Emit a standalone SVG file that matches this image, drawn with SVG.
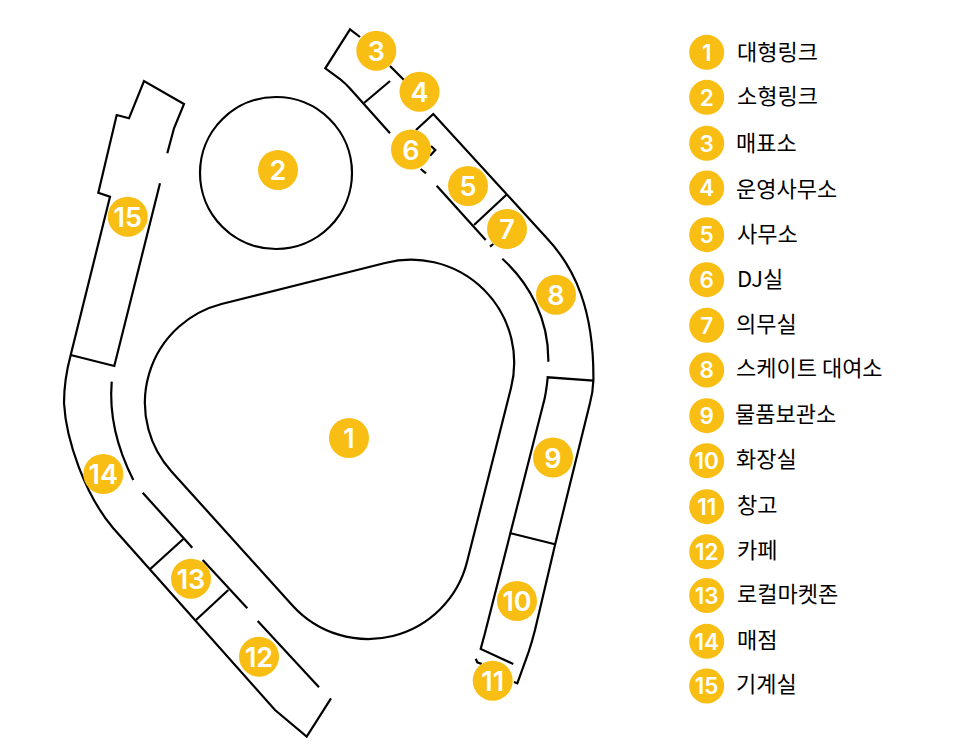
<svg xmlns="http://www.w3.org/2000/svg" width="980" height="744" viewBox="0 0 980 744">
<style>
.w{fill:none;stroke:#000;stroke-width:2.2;stroke-linejoin:miter;stroke-linecap:butt}
.b{fill:#F9BE14}
.n{font-family:Inter,"Liberation Sans",sans-serif;font-weight:600;fill:#fff;text-anchor:middle}
.m{font-size:27px}
.s{font-size:22.5px}
.t{font-family:"Noto Sans CJK KR","Noto Sans",sans-serif;font-size:22px;fill:#000}
</style>
<rect width="980" height="744" fill="#fff"/>
<g id="walls">
<path class="w" d="M385,263 L221.5,304 A102,102 0 0 0 171.7,471.7 L292.7,605.7 A102,102 0 0 0 467,562 L511,388 A103,103 0 0 0 385,263 Z"/>
<circle class="w" cx="276" cy="173" r="76"/>
<path class="w" d="M360,37 L350,29.3 L325.3,68.3 L340,79 Q346,84 350,88.5 L390,133.3"/>
<path class="w" d="M364,103 L390,81"/>
<path class="w" d="M390,66 L404,80"/>
<path class="w" d="M416,130 L433.3,114 L546.7,238 C575,268 594,310 593.4,380 Q593,392 590,403 L555,545 L535,630 Q532,642 528.3,653 L517.3,683.3 L514,682"/>
<path class="w" d="M431,146 L435.3,150 L430,155.7"/>
<path class="w" d="M420.7,169 L426,173.3"/>
<path class="w" d="M436.7,185.7 L485.7,240"/>
<path class="w" d="M474,225 L506.7,194.5"/>
<path class="w" d="M490,246.7 L493.3,244"/>
<path class="w" d="M502.3,258.7 C530,284 549,320 548.3,361.7"/>
<path class="w" d="M593.4,380.7 L547.7,377.3 Q546,395 543,405 L485,633 L480.7,649 L513.3,664"/>
<path class="w" d="M510.7,533.3 L555,544.3"/>
<path class="w" d="M475.7,658.7 L477.3,662.3 L481.7,664"/>
<path class="w" d="M167.3,153.3 L174,128.3 L184,104 L144,81 L129,118.3 L116.7,115 L98.3,192.7 L110,196.7 L70.7,355 Q64,380 64,403 C66,440 85,495 113.3,528.3 L275,710 L306.7,736.7 L331,698.3"/>
<path class="w" d="M70.7,355 L114.3,366 L160,183.3"/>
<path class="w" d="M111.7,381.7 C109,415 118,450 133.3,480"/>
<path class="w" d="M142.7,492.7 L192.3,547.7"/>
<path class="w" d="M183.3,539 L150,569.3"/>
<path class="w" d="M202.7,560 L247.3,608.3"/>
<path class="w" d="M228.3,590 L196,620"/>
<path class="w" d="M257.7,621 L319,687.3"/>
</g>
<g id="room-1"><circle class="b" cx="349" cy="438" r="20"/><text class="n m" x="349" y="448">1</text></g>
<g id="room-2"><circle class="b" cx="278" cy="170" r="20"/><text class="n m" x="278" y="180">2</text></g>
<g id="room-3"><circle class="b" cx="376.3" cy="50.7" r="20"/><text class="n m" x="376.3" y="60.7">3</text></g>
<g id="room-4"><circle class="b" cx="419.5" cy="91.7" r="20"/><text class="n m" x="419.5" y="101.7">4</text></g>
<g id="room-5"><circle class="b" cx="468" cy="186" r="20"/><text class="n m" x="468" y="196">5</text></g>
<g id="room-6"><circle class="b" cx="411" cy="149.5" r="20"/><text class="n m" x="411" y="159.5">6</text></g>
<g id="room-7"><circle class="b" cx="507" cy="229" r="20"/><text class="n m" x="507" y="239">7</text></g>
<g id="room-8"><circle class="b" cx="556" cy="294.7" r="20"/><text class="n m" x="556" y="304.7">8</text></g>
<g id="room-9"><circle class="b" cx="553" cy="457.6" r="20"/><text class="n m" x="553" y="467.6">9</text></g>
<g id="room-10"><circle class="b" cx="517" cy="601" r="20"/><text class="n m" x="517" y="611">10</text></g>
<g id="room-11"><circle class="b" cx="492.7" cy="680.7" r="20"/><text class="n m" x="492.7" y="690.7">11</text></g>
<g id="room-12"><circle class="b" cx="259" cy="656.7" r="20"/><text class="n m" x="259" y="666.7">12</text></g>
<g id="room-13"><circle class="b" cx="191" cy="578.7" r="20"/><text class="n m" x="191" y="588.7">13</text></g>
<g id="room-14"><circle class="b" cx="103.3" cy="474" r="20"/><text class="n m" x="103.3" y="484">14</text></g>
<g id="room-15"><circle class="b" cx="127.7" cy="216.7" r="20"/><text class="n m" x="127.7" y="226.7">15</text></g>
<g id="legend-1"><circle class="b" cx="706.7" cy="52.3" r="17.5"/><text class="n s" x="706.7" y="60.5">1</text><text class="t" x="737" y="60">대형링크</text></g>
<g id="legend-2"><circle class="b" cx="706.7" cy="97.3" r="17.5"/><text class="n s" x="706.7" y="105.5">2</text><text class="t" x="737" y="104">소형링크</text></g>
<g id="legend-3"><circle class="b" cx="706.7" cy="143.3" r="17.5"/><text class="n s" x="706.7" y="151.5">3</text><text class="t" x="736" y="151">매표소</text></g>
<g id="legend-4"><circle class="b" cx="706.7" cy="188" r="17.5"/><text class="n s" x="706.7" y="196.2">4</text><text class="t" x="736" y="197">운영사무소</text></g>
<g id="legend-5"><circle class="b" cx="706.7" cy="234.7" r="17.5"/><text class="n s" x="706.7" y="242.9">5</text><text class="t" x="737" y="242">사무소</text></g>
<g id="legend-6"><circle class="b" cx="706.7" cy="279.7" r="17.5"/><text class="n s" x="706.7" y="287.9">6</text><text class="t" x="737" y="287">DJ실</text></g>
<g id="legend-7"><circle class="b" cx="706.7" cy="325.3" r="17.5"/><text class="n s" x="706.7" y="333.5">7</text><text class="t" x="736" y="332">의무실</text></g>
<g id="legend-8"><circle class="b" cx="706.7" cy="370" r="17.5"/><text class="n s" x="706.7" y="378.2">8</text><text class="t" x="736" y="376">스케이트 대여소</text></g>
<g id="legend-9"><circle class="b" cx="706.7" cy="415.7" r="17.5"/><text class="n s" x="706.7" y="423.9">9</text><text class="t" x="735" y="422">물품보관소</text></g>
<g id="legend-10"><circle class="b" cx="706.7" cy="460.7" r="17.5"/><text class="n s" x="706.7" y="468.9">10</text><text class="t" x="736" y="467">화장실</text></g>
<g id="legend-11"><circle class="b" cx="706.7" cy="506.7" r="17.5"/><text class="n s" x="706.7" y="514.9">11</text><text class="t" x="737" y="513">창고</text></g>
<g id="legend-12"><circle class="b" cx="706.7" cy="551.7" r="17.5"/><text class="n s" x="706.7" y="559.9">12</text><text class="t" x="737" y="558">카페</text></g>
<g id="legend-13"><circle class="b" cx="706.7" cy="595.5" r="17.5"/><text class="n s" x="706.7" y="603.7">13</text><text class="t" x="737" y="602">로컬마켓존</text></g>
<g id="legend-14"><circle class="b" cx="706.7" cy="641.3" r="17.5"/><text class="n s" x="706.7" y="649.5">14</text><text class="t" x="737" y="648">매점</text></g>
<g id="legend-15"><circle class="b" cx="706.7" cy="686" r="17.5"/><text class="n s" x="706.7" y="694.2">15</text><text class="t" x="736" y="692">기계실</text></g>
</svg>
